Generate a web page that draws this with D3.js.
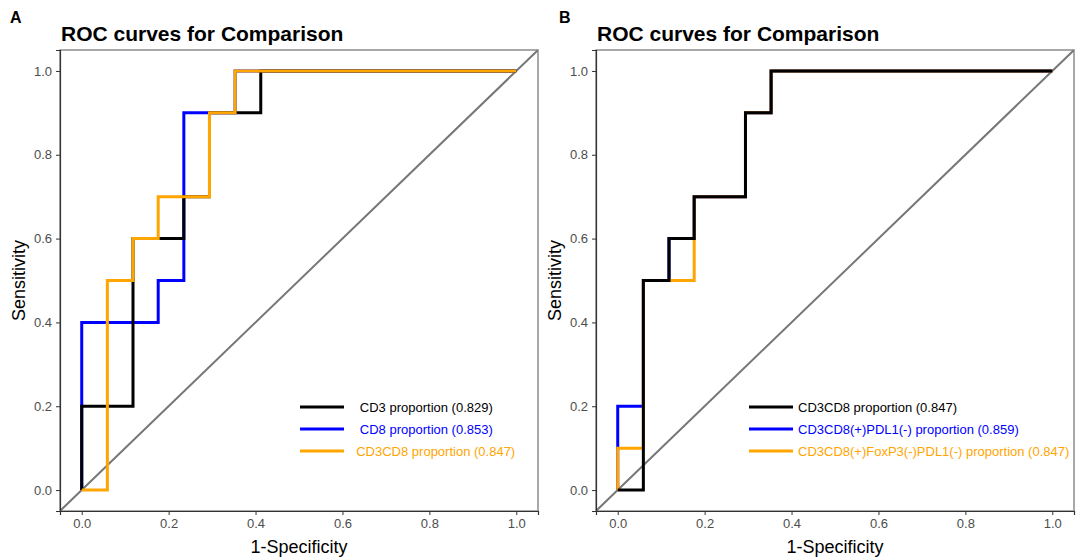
<!DOCTYPE html>
<html>
<head>
<meta charset="utf-8">
<script src="https://cdn.jsdelivr.net/npm/d3@7"></script>
<style>
  body { margin: 0; background: #fff; }
  svg { font-family: "Liberation Sans", Arial, sans-serif; }
  .tick text { fill: #4d4d4d; font-size: 13px; }
  .legend text { white-space: pre; font-size: 13px; }
</style>
</head>
<body>
<div id="chart"></div>
<script>
// Panel A series (1-specificity / sensitivity corner points)
var cd3X = [0, 0, 0.118, 0.118, 0.235, 0.235, 0.294, 0.294, 0.412, 0.412, 1];
var cd3Y = [0, 0.2, 0.2, 0.6, 0.6, 0.7, 0.7, 0.9, 0.9, 1, 1];
var cd8X = [0, 0, 0.176, 0.176, 0.235, 0.235, 0.353, 0.353, 1];
var cd8Y = [0, 0.4, 0.4, 0.5, 0.5, 0.9, 0.9, 1, 1];
var cd3cd8X = [0, 0.059, 0.059, 0.118, 0.118, 0.176, 0.176, 0.294, 0.294, 0.353, 0.353, 1];
var cd3cd8Y = [0, 0, 0.5, 0.5, 0.6, 0.6, 0.7, 0.7, 0.9, 0.9, 1, 1];

// Panel B series
var pdl1X = [0, 0, 0.059, 0.059, 0.118, 0.118, 0.176, 0.176, 0.294, 0.294, 0.353, 0.353, 1];
var pdl1Y = [0, 0.2, 0.2, 0.5, 0.5, 0.6, 0.6, 0.7, 0.7, 0.9, 0.9, 1, 1];
var foxp3X = [0, 0, 0.059, 0.059, 0.176, 0.176, 0.294, 0.294, 0.353, 0.353, 1];
var foxp3Y = [0, 0.1, 0.1, 0.5, 0.5, 0.7, 0.7, 0.9, 0.9, 1, 1];

var labelsA = ["   CD3 proportion (0.829)", "   CD8 proportion (0.853)", "  CD3CD8 proportion (0.847)"];
var labelsB = ["CD3CD8 proportion (0.847)", "CD3CD8(+)PDL1(-) proportion (0.859)", "CD3CD8(+)FoxP3(-)PDL1(-) proportion (0.847)"];
var tickValues = [0, 0.2, 0.4, 0.6, 0.8, 1.0];

var COLORS = { black: "#000000", blue: "#0000ff", orange: "#ffa500" };

var zip = (xs, ys) => xs.map((x, i) => [x, ys[i]]);

var panels = [
  {
    tag: "A",
    offset: 0,
    series: [
      { pts: zip(cd8X, cd8Y), color: COLORS.blue },
      { pts: zip(cd3X, cd3Y), color: COLORS.black },
      { pts: zip(cd3cd8X, cd3cd8Y), color: COLORS.orange }
    ],
    legend: [
      { label: labelsA[0], color: COLORS.black },
      { label: labelsA[1], color: COLORS.blue },
      { label: labelsA[2], color: COLORS.orange }
    ],
    legendX: 300
  },
  {
    tag: "B",
    offset: 536,
    series: [
      { pts: zip(pdl1X, pdl1Y), color: COLORS.blue },
      { pts: zip(foxp3X, foxp3Y), color: COLORS.orange },
      { pts: zip(cd3cd8X, cd3cd8Y), color: COLORS.black }
    ],
    legend: [
      { label: labelsB[0], color: COLORS.black },
      { label: labelsB[1], color: COLORS.blue },
      { label: labelsB[2], color: COLORS.orange }
    ],
    legendX: 749 - 536
  }
];

var width = 1080;
var height = 559;
var margins = { top: 50, left: 60, bottom: 48 };
var plotW = 478;
var plotH = height - margins.top - margins.bottom;

var svg = d3.select("#chart")
  .append("svg")
  .attr("width", width)
  .attr("height", height);

panels.forEach(function(p) {
  var g = svg.append("g")
    .attr("transform", `translate(${p.offset},0)`);

  // ggplot style 5% expansion
  var xScale = d3.scaleLinear().domain([-0.05, 1.05]).range([margins.left, margins.left + plotW]);
  var yScale = d3.scaleLinear().domain([-0.05, 1.05]).range([margins.top + plotH, margins.top]);

  // Panel tag and title
  g.append("text")
    .attr("x", p.tag == "A" ? 10 : 23)
    .attr("y", 23)
    .attr("font-size", 16)
    .attr("font-weight", "bold")
    .text(p.tag);

  g.append("text")
    .attr("x", margins.left + 1)
    .attr("y", 41)
    .attr("font-size", 21)
    .attr("font-weight", "bold")
    .text("ROC curves for Comparison");

  // Clip for diagonal
  var clipId = "clip" + p.tag;
  g.append("clipPath")
    .attr("id", clipId)
    .append("rect")
    .attr("x", margins.left)
    .attr("y", margins.top)
    .attr("width", plotW)
    .attr("height", plotH);

  // Panel border (light)
  g.append("rect")
    .attr("x", margins.left)
    .attr("y", margins.top)
    .attr("width", plotW)
    .attr("height", plotH)
    .attr("fill", "none")
    .attr("stroke", "#8c8c8c")
    .attr("stroke-width", 1.5);

  // Diagonal reference line
  g.append("line")
    .attr("clip-path", `url(#${clipId})`)
    .attr("x1", xScale(-0.05))
    .attr("y1", yScale(-0.05))
    .attr("x2", xScale(1.05))
    .attr("y2", yScale(1.05))
    .attr("stroke", "#777")
    .attr("stroke-width", 2);

  // Curves
  var line = d3.line()
    .x(d => xScale(d[0]))
    .y(d => yScale(d[1]));

  g.append("g")
    .attr("class", "lines")
    .selectAll("path")
    .data(p.series)
    .enter()
    .append("path")
    .attr("fill", "none")
    .attr("stroke", d => d.color)
    .attr("stroke-width", 3)
    .attr("stroke-linejoin", "miter")
    .attr("d", d => line(d.pts));

  // Axes
  var xAxis = d3.axisBottom(xScale)
    .tickValues(tickValues)
    .tickSize(4)
    .tickPadding(4)
    .tickFormat(d3.format(".1f"));

  var yAxis = d3.axisLeft(yScale)
    .tickValues(tickValues)
    .tickSize(4)
    .tickPadding(4)
    .tickFormat(d3.format(".1f"));

  g.append("g")
    .attr("class", "x axis")
    .attr("transform", `translate(0,${margins.top + plotH})`)
    .call(xAxis)
    .call(a => a.select(".domain").attr("stroke", "#333").attr("stroke-width", 1.2))
    .call(a => a.selectAll(".tick line").attr("stroke", "#333"));

  g.append("g")
    .attr("class", "y axis")
    .attr("transform", `translate(${margins.left},0)`)
    .call(yAxis)
    .call(a => a.select(".domain").attr("stroke", "#333").attr("stroke-width", 1.2))
    .call(a => a.selectAll(".tick line").attr("stroke", "#333"));

  // Axis titles
  g.append("text")
    .attr("x", margins.left + plotW / 2)
    .attr("y", 553)
    .attr("text-anchor", "middle")
    .attr("font-size", 18)
    .text("1-Specificity");

  g.append("text")
    .attr("transform", `translate(25,${margins.top + plotH / 2}) rotate(-90)`)
    .attr("text-anchor", "middle")
    .attr("font-size", 18)
    .text("Sensitivity");

  // Legend
  var legend = g.append("g")
    .attr("class", "legend")
    .attr("transform", `translate(${p.legendX},407)`);

  var items = legend.selectAll("g")
    .data(p.legend)
    .enter()
    .append("g")
    .attr("transform", (d, i) => `translate(0,${i * 22})`);

  items.append("line")
    .attr("x1", 0)
    .attr("x2", 44)
    .attr("stroke", d => d.color)
    .attr("stroke-width", 3);

  items.append("text")
    .attr("x", 49)
    .attr("dy", "0.35em")
    .attr("fill", d => d.color)
    .text(d => d.label);
});
</script>
</body>
</html>
